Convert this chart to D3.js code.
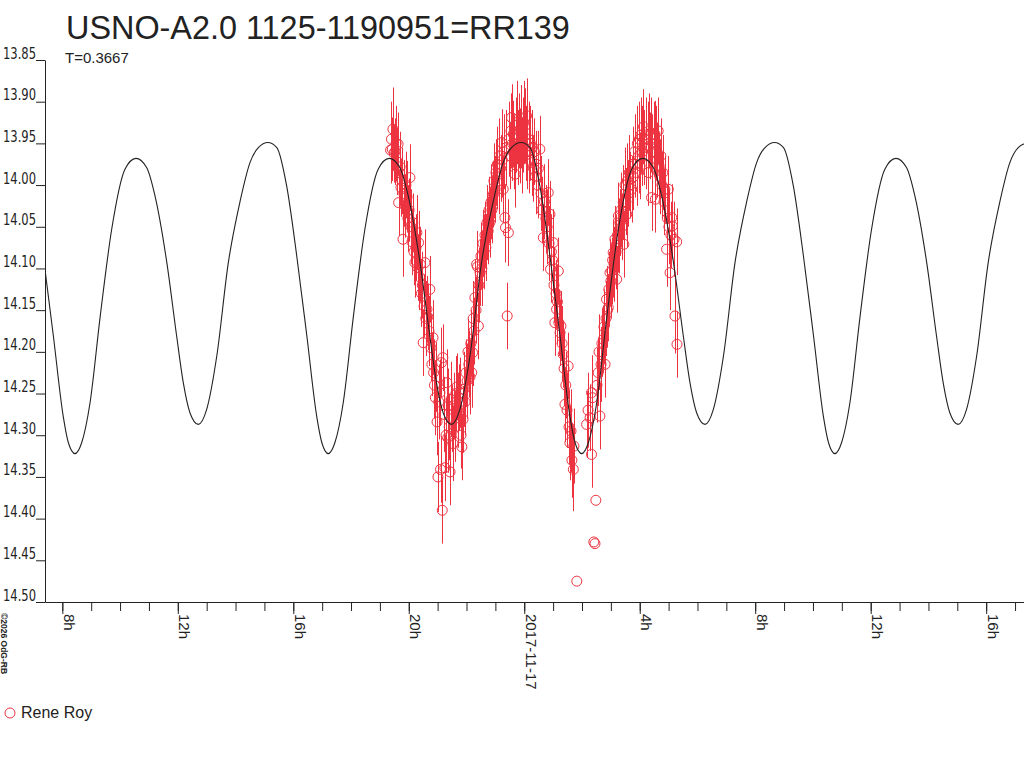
<!DOCTYPE html>
<html>
<head>
<meta charset="utf-8">
<script src="https://cdn.jsdelivr.net/npm/d3@7"></script>
<style>
  body { margin: 0; background: #fff; }
  svg { display: block; font-family: "Liberation Sans", Arial, sans-serif; }
</style>
</head>
<body>
<div id="chart"></div>
<script>
// observations: hours from 2017-11-17 00:00 UT, magnitude, error
const obsHour = [
  -4.63, -4.60, -4.57, -4.55, -4.51, -4.48, -4.44, -4.41, -4.37, -4.35,
  -4.32, -4.30, -4.27, -4.24, -4.20, -4.17, -4.13, -4.10, -4.06, -4.03,
  -3.99, -3.96, -3.92, -3.89, -3.86, -3.82, -3.79, -3.75, -3.72, -3.69,
  -3.66, -3.63, -3.60, -3.56, -3.53, -3.50, -3.47, -3.44, -3.41, -3.37,
  -3.34, -3.30, -3.27, -3.23, -3.20, -3.16, -3.14, -3.11, -3.08, -3.04,
  -3.02, -2.99, -2.96, -2.92, -2.90, -2.87, -2.84, -2.82, -2.78, -2.75,
  -2.71, -2.68, -2.65, -2.63, -2.60, -2.57, -2.54, -2.50, -2.47, -2.44,
  -2.40, -2.37, -2.33, -2.30, -2.26, -2.23, -2.19, -2.16, -2.12, -2.09,
  -2.05, -2.02, -1.98, -1.95, -1.92, -1.88, -1.85, -1.82, -1.79, -1.77,
  -1.74, -1.71, -1.67, -1.65, -1.62, -1.59, -1.57, -1.53, -1.50, -1.47,
  -1.43, -1.40, -1.36, -1.33, -1.29, -1.25, -1.22, -1.19, -1.15, -1.12,
  -1.07, -1.05, -1.01, -0.98, -0.96, -0.93, -0.89, -0.86, -0.82, -0.78,
  -0.76, -0.73, -0.70, -0.67, -0.65, -0.62, -0.59, -0.55, -0.53, -0.50,
  -0.46, -0.44, -0.41, -0.38, -0.36, -0.32, -0.29, -0.25, -0.22, -0.18,
  -0.15, -0.11, -0.08, -0.05, -0.01, 0.02, 0.06, 0.08, 0.11, 0.15,
  0.18, 0.21, 0.26, 0.28, 0.32, 0.35, 0.39, 0.42, 0.46, 0.49,
  0.54, 0.58, 0.61, 0.66, 0.70, 0.75, 0.79, 0.83, 0.86, 0.89,
  0.91, 0.94, 0.98, 1.00, 1.03, 1.06, 1.10, 1.12, 1.15, 1.18,
  1.20, 1.24, 1.27, 1.31, 1.35, 1.38, 1.41, 1.44, 1.48, 1.52,
  1.55, 1.58, 1.62, 1.65, 1.70, 1.72, 1.82, 2.16, 2.21, 2.28,
  2.33, 2.33, 2.36, 2.41, 2.45, 2.48, 2.52, 2.56, 2.59, 2.62,
  2.66, 2.69, 2.74, 2.76, 2.80, 2.83, 2.85, 2.88, 2.91, 2.93,
  2.97, 3.00, 3.03, 3.06, 3.08, 3.11, 3.14, 3.18, 3.20, 3.23,
  3.26, 3.28, 3.31, 3.35, 3.38, 3.43, 3.45, 3.49, 3.52, 3.55,
  3.57, 3.61, 3.64, 3.68, 3.72, 3.75, 3.78, 3.82, 3.85, 3.89,
  3.92, 3.96, 3.99, 4.01, 4.04, 4.07, 4.09, 4.13, 4.16, 4.20,
  4.23, 4.27, 4.30, 4.32, 4.35, 4.39, 4.41, 4.44, 4.48, 4.53,
  4.54, 4.58, 4.61, 4.64, 4.67, 4.70, 4.73, 4.77, 4.80, 4.84,
  4.87, 4.93, 4.96, 4.99, 5.01, 5.05, 5.08, 5.11, 5.13, 5.19,
  5.22, 5.28, 5.29
];
const obsMag = [
  13.958, 13.945, 13.957, 13.933, 13.962, 13.960, 13.950, 13.972, 13.951, 14.021,
  13.985, 13.978, 14.003, 13.995, 14.065, 14.010, 14.025, 14.000, 14.014, 14.040,
  14.030, 13.991, 14.050, 14.068, 14.045, 14.080, 14.093, 14.075, 14.057, 14.099,
  14.069, 14.110, 14.095, 14.130, 14.120, 14.189, 14.145, 14.093, 14.160, 14.149,
  14.158, 14.175, 14.125, 14.195, 14.215, 14.183, 14.225, 14.240, 14.255, 14.230,
  14.284, 14.350, 14.260, 14.249, 14.341, 14.213, 14.390, 14.207, 14.275, 14.339,
  14.300, 14.237, 14.303, 14.265, 14.290, 14.344, 14.257, 14.280, 14.310, 14.265,
  14.290, 14.250, 14.242, 14.270, 14.255, 14.249, 14.300, 14.314, 14.281, 14.245,
  14.260, 14.225, 14.235, 14.200, 14.215, 14.230, 14.190, 14.225, 14.201, 14.160,
  14.175, 14.135, 14.150, 14.095, 14.098, 14.169, 14.120, 14.105, 14.085, 14.100,
  14.070, 14.080, 14.060, 14.075, 14.045, 14.055, 14.030, 14.045, 14.020, 14.030,
  14.011, 13.995, 14.005, 13.985, 13.989, 13.975, 13.995, 13.965, 13.980, 13.949,
  13.970, 14.005, 13.960, 14.039, 14.051, 13.955, 14.157, 14.057, 13.945, 13.965,
  13.935, 13.919, 13.950, 13.939, 13.960, 13.987, 13.940, 13.925, 13.955, 13.935,
  13.953, 13.930, 13.965, 13.940, 13.925, 13.929, 13.950, 13.917, 13.960, 13.945,
  13.970, 13.950, 13.973, 13.955, 13.980, 13.960, 13.990, 13.975, 14.000, 13.980,
  13.957, 14.010, 14.030, 14.063, 14.020, 14.040, 14.050, 14.009, 14.070, 14.035,
  14.101, 14.080, 14.090, 14.069, 14.120, 14.165, 14.130, 14.149, 14.140, 14.103,
  14.165, 14.177, 14.169, 14.190, 14.203, 14.220, 14.263, 14.240, 14.270, 14.217,
  14.290, 14.309, 14.295, 14.330, 14.341, 14.313, 14.475, 14.287, 14.270, 14.279,
  14.249, 14.323, 14.255, 14.428, 14.430, 14.378, 14.240, 14.225, 14.200, 14.277,
  14.215, 14.190, 14.185, 14.170, 14.215, 14.160, 14.137, 14.150, 14.147, 14.125,
  14.105, 14.115, 14.103, 14.090, 14.081, 14.095, 14.065, 14.080, 14.113, 14.060,
  14.037, 14.061, 14.045, 14.030, 14.050, 14.021, 14.071, 14.000, 14.020, 14.035,
  13.995, 14.010, 13.985, 14.000, 14.005, 13.975, 13.990, 13.960, 13.975, 13.985,
  13.950, 13.965, 13.945, 13.977, 13.940, 13.961, 13.950, 13.930, 13.955, 13.940,
  13.965, 13.945, 13.985, 13.935, 13.953, 13.940, 14.015, 13.960, 13.945, 13.939,
  14.017, 13.950, 13.970, 13.935, 13.977, 13.990, 13.965, 14.000, 13.985, 14.020,
  14.005, 14.077, 14.040, 14.005, 14.050, 14.105, 14.060, 14.039, 14.049, 14.065,
  14.157, 14.068, 14.191
];
const obsErr = [
  0.040, 0.045, 0.038, 0.050, 0.035, 0.040, 0.045, 0.040, 0.038, 0.040,
  0.040, 0.042, 0.035, 0.040, 0.045, 0.040, 0.038, 0.040, 0.043, 0.040,
  0.038, 0.040, 0.045, 0.040, 0.035, 0.040, 0.042, 0.040, 0.045, 0.040,
  0.038, 0.040, 0.045, 0.040, 0.040, 0.040, 0.038, 0.040, 0.045, 0.040,
  0.040, 0.042, 0.040, 0.040, 0.038, 0.045, 0.040, 0.040, 0.045, 0.042,
  0.040, 0.042, 0.045, 0.040, 0.040, 0.042, 0.040, 0.040, 0.045, 0.040,
  0.045, 0.040, 0.042, 0.045, 0.040, 0.040, 0.045, 0.040, 0.045, 0.040,
  0.042, 0.045, 0.040, 0.045, 0.040, 0.042, 0.040, 0.040, 0.040, 0.045,
  0.040, 0.040, 0.045, 0.040, 0.040, 0.045, 0.040, 0.042, 0.040, 0.045,
  0.040, 0.045, 0.040, 0.040, 0.042, 0.040, 0.045, 0.040, 0.040, 0.045,
  0.040, 0.045, 0.040, 0.040, 0.045, 0.040, 0.040, 0.042, 0.045, 0.040,
  0.040, 0.045, 0.040, 0.040, 0.040, 0.045, 0.040, 0.045, 0.040, 0.040,
  0.045, 0.040, 0.045, 0.040, 0.042, 0.045, 0.040, 0.040, 0.045, 0.040,
  0.045, 0.040, 0.045, 0.040, 0.045, 0.040, 0.045, 0.050, 0.045, 0.045,
  0.045, 0.050, 0.045, 0.045, 0.050, 0.045, 0.045, 0.045, 0.045, 0.045,
  0.040, 0.045, 0.040, 0.045, 0.040, 0.040, 0.045, 0.040, 0.040, 0.045,
  0.040, 0.045, 0.040, 0.040, 0.045, 0.040, 0.045, 0.040, 0.045, 0.040,
  0.040, 0.045, 0.040, 0.040, 0.045, 0.040, 0.040, 0.042, 0.045, 0.040,
  0.040, 0.040, 0.042, 0.045, 0.040, 0.045, 0.045, 0.040, 0.045, 0.040,
  0.045, 0.045, 0.050, 0.045, 0.050, 0.045, 0.000, 0.040, 0.045, 0.040,
  0.045, 0.040, 0.050, 0.000, 0.000, 0.000, 0.045, 0.040, 0.045, 0.040,
  0.045, 0.040, 0.040, 0.045, 0.040, 0.045, 0.040, 0.045, 0.040, 0.045,
  0.040, 0.045, 0.040, 0.045, 0.040, 0.045, 0.040, 0.045, 0.040, 0.045,
  0.040, 0.045, 0.040, 0.045, 0.040, 0.045, 0.040, 0.045, 0.040, 0.040,
  0.045, 0.040, 0.045, 0.040, 0.040, 0.045, 0.040, 0.045, 0.040, 0.040,
  0.045, 0.045, 0.045, 0.040, 0.045, 0.040, 0.045, 0.045, 0.045, 0.045,
  0.040, 0.045, 0.040, 0.045, 0.040, 0.045, 0.040, 0.045, 0.045, 0.040,
  0.040, 0.045, 0.045, 0.040, 0.040, 0.045, 0.045, 0.040, 0.045, 0.040,
  0.040, 0.045, 0.040, 0.040, 0.045, 0.045, 0.040, 0.040, 0.040, 0.045,
  0.045, 0.040, 0.040
];

// fitted light curve (T = 0.3667 d)
const modelHour = [
  -16.66, -16.31, -15.97, -15.79,
  -15.56, -15.33, -15.04, -14.69, -14.29, -13.83, -13.45, -13.08, -12.79, -12.38,
  -12.04, -11.81, -11.58, -11.29, -11.00, -10.65, -10.25, -9.84, -9.50, -9.21,
  -8.88, -8.57, -8.23, -7.88, -7.53, -7.19, -7.01,
  -6.79, -6.56, -6.27, -5.92, -5.52, -5.06, -4.68, -4.31, -4.02, -3.61,
  -3.27, -3.04, -2.81, -2.52, -2.23, -1.88, -1.48, -1.07, -0.73, -0.44,
  -0.11, 0.20, 0.54, 0.89, 1.24, 1.58, 1.76,
  1.99, 2.22, 2.51, 2.86, 3.26, 3.72, 4.10, 4.47, 4.76, 5.17,
  5.51, 5.74, 5.97, 6.26, 6.55, 6.90, 7.30, 7.71, 8.05, 8.34,
  8.67, 8.98, 9.32, 9.67, 10.02, 10.36, 10.54,
  10.76, 10.99, 11.28, 11.63, 12.03, 12.49, 12.87, 13.24, 13.53, 13.94,
  14.28, 14.51, 14.74, 15.03, 15.32, 15.67, 16.07, 16.48, 16.82, 17.11,
  17.44
];
const modelMag = [
  14.085, 14.181, 14.277, 14.309,
  14.322, 14.309, 14.261, 14.158, 14.053, 13.981, 13.968, 13.979, 14.013, 14.093,
  14.181, 14.237, 14.273, 14.287, 14.269, 14.205, 14.093, 14.019, 13.973, 13.955,
  13.949, 13.955, 14.001, 14.085, 14.181, 14.277, 14.309,
  14.322, 14.309, 14.261, 14.158, 14.053, 13.981, 13.968, 13.979, 14.013, 14.093,
  14.181, 14.237, 14.273, 14.287, 14.269, 14.205, 14.093, 14.019, 13.973, 13.955,
  13.949, 13.955, 14.001, 14.085, 14.181, 14.277, 14.309,
  14.322, 14.309, 14.261, 14.158, 14.053, 13.981, 13.968, 13.979, 14.013, 14.093,
  14.181, 14.237, 14.273, 14.287, 14.269, 14.205, 14.093, 14.019, 13.973, 13.955,
  13.949, 13.955, 14.001, 14.085, 14.181, 14.277, 14.309,
  14.322, 14.309, 14.261, 14.158, 14.053, 13.981, 13.968, 13.979, 14.013, 14.093,
  14.181, 14.237, 14.273, 14.287, 14.269, 14.205, 14.093, 14.019, 13.973, 13.955,
  13.949
];

// axes
const yTicks = [13.85, 13.90, 13.95, 14.00, 14.05, 14.10, 14.15, 14.20, 14.25, 14.30, 14.35, 14.40, 14.45, 14.50];
const xTickHours = [-16, -12, -8, -4, 0, 4, 8, 12, 16];
const xTickLabels = ["8h", "12h", "16h", "20h", "2017-11-17", "4h", "8h", "12h", "16h"];
const hourDomain = [-16.60, 17.31];

const epoch = Date.UTC(2017, 10, 17);
const toDate = h => new Date(epoch + h * 3600e3);

const width = 1024;
const height = 768;
const plot = {left: 45, right: 1024, top: 60, bottom: 602};
const red = "#ee3340";
const ink = "#222";

const svg = d3.select("#chart")
  .append("svg")
  .attr("width", width)
  .attr("height", height);

svg.append("rect").attr("width", width).attr("height", height).attr("fill", "#fff");

// time scale (UT)
const x = d3.scaleUtc()
  .domain(hourDomain.map(toDate))
  .range([plot.left, plot.right]);

// magnitudes, brighter at top
const y = d3.scaleLinear()
  .domain([13.85, 14.50])
  .range([plot.top, plot.bottom]);

svg.append("clipPath").attr("id", "clip")
  .append("rect")
  .attr("x", plot.left).attr("y", plot.top)
  .attr("width", plot.right - plot.left).attr("height", plot.bottom - plot.top);

// title + period
svg.append("text")
  .attr("x", 66).attr("y", 39)
  .attr("font-size", 32.4)
  .attr("fill", ink)
  .text("USNO-A2.0 1125-1190951=RR139");

svg.append("text")
  .attr("x", 65).attr("y", 63)
  .attr("font-size", 15)
  .attr("fill", ink)
  .text("T=0.3667");

// y axis, labels sit on top of the tick
const gy = svg.append("g")
  .attr("transform", `translate(${plot.left},0)`)
  .call(d3.axisLeft(y).tickValues(yTicks).tickSize(9).tickPadding(0).tickSizeOuter(0)
    .tickFormat(d3.format(".2f")));
gy.selectAll("text")
  .attr("dy", -2)
  .attr("font-size", 16)
  .attr("fill", ink)
  .attr("font-family", "'Liberation Sans Narrow', 'Arial Narrow', 'DejaVu Sans Condensed', sans-serif")
  .attr("textLength", 33)
  .attr("lengthAdjust", "spacingAndGlyphs");

// x axis: hourly minor ticks, 4-hour labelled ticks
svg.append("g")
  .attr("transform", `translate(0,${plot.bottom})`)
  .call(d3.axisBottom(x).ticks(d3.utcHour.every(1)).tickSize(9).tickSizeOuter(0).tickFormat(""));

const gx = svg.append("g")
  .attr("transform", `translate(0,${plot.bottom})`)
  .call(d3.axisBottom(x).tickValues(xTickHours.map(toDate)).tickSize(12).tickSizeOuter(0)
    .tickFormat((d, i) => xTickLabels[i]));
gx.select(".domain").remove();
gx.selectAll("text")
  .attr("transform", "rotate(90)")
  .attr("x", 12).attr("y", -1).attr("dy", 0)
  .attr("text-anchor", "start")
  .attr("font-size", 15)
  .attr("fill", ink)
  .attr("font-family", "'Liberation Sans', Arial, sans-serif");

svg.selectAll(".domain, .tick line").attr("stroke", ink);

// observations
const obs = obsHour.map((h, i) => ({t: toDate(h), mag: obsMag[i], err: obsErr[i]}));

const marks = svg.append("g").attr("clip-path", "url(#clip)");

marks.append("g")
  .selectAll("line")
  .data(obs.filter(d => d.err > 0))
  .enter()
  .append("line")
  .attr("x1", d => Math.round(x(d.t)) + 0.5)
  .attr("x2", d => Math.round(x(d.t)) + 0.5)
  .attr("y1", d => y(d.mag - d.err))
  .attr("y2", d => y(d.mag + d.err))
  .attr("stroke", red)
  .attr("stroke-width", 1);

marks.append("g")
  .selectAll("circle")
  .data(obs)
  .enter()
  .append("circle")
  .attr("cx", d => x(d.t))
  .attr("cy", d => y(d.mag))
  .attr("r", 5)
  .attr("fill", "none")
  .attr("stroke", red)
  .attr("stroke-width", 1);

// model curve on top
const model = modelHour.map((h, i) => ({t: toDate(h), mag: modelMag[i]}));
marks.append("path")
  .datum(model)
  .attr("fill", "none")
  .attr("stroke", ink)
  .attr("stroke-width", 1.1)
  .attr("d", d3.line().x(d => x(d.t)).y(d => y(d.mag)).curve(d3.curveMonotoneX));

// legend
svg.append("circle")
  .attr("cx", 10).attr("cy", 713).attr("r", 5)
  .attr("fill", "none").attr("stroke", red);
svg.append("text")
  .attr("x", 21).attr("y", 718)
  .attr("font-size", 16)
  .attr("fill", ink)
  .text("Rene Roy");

// credit, rotated in the corner
svg.append("text")
  .attr("transform", "translate(1,613) rotate(90)")
  .attr("font-size", 8.5)
  .attr("font-weight", "bold")
  .attr("fill", ink)
  .text("©2026 OdG-RB");
</script>
</body>
</html>
